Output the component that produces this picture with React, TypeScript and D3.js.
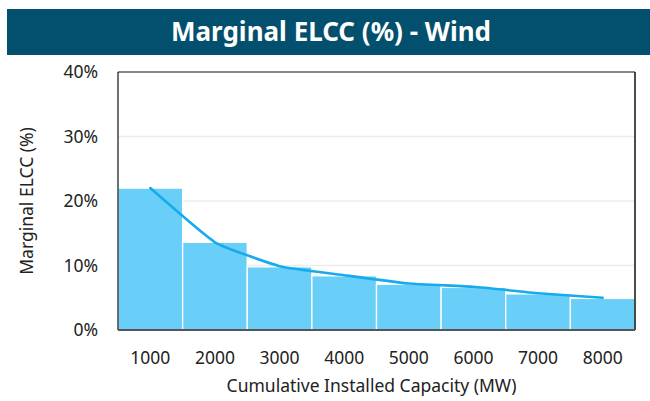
import React from 'react';
import * as d3 from 'd3';

// cumulative installed capacity steps (MW)
const capacities = ['1000', '2000', '3000', '4000', '5000', '6000', '7000', '8000'];
// marginal ELCC per tranche, %
const barValues = [22, 13.6, 9.8, 8.4, 7.1, 6.6, 5.6, 4.9];
// smoothed trend line, %
const lineValues = [22, 13.6, 9.9, 8.5, 7.2, 6.7, 5.7, 5.0];
const yTicks = [0, 10, 20, 30, 40];

const W = 650;
const H = 401;
const margin = { top: 72, right: 15, bottom: 71, left: 118 };
const FONT = '"Noto Sans", "Open Sans", sans-serif';

export default function App() {
  const innerW = W - margin.left - margin.right;
  const innerH = H - margin.top - margin.bottom;

  const x = d3.scaleBand<string>().domain(capacities).range([0, innerW]).padding(0);
  const y = d3.scaleLinear().domain([0, 40]).range([innerH, 0]);

  const line = d3
    .line<number>()
    .x((_, i) => (x(capacities[i]) || 0) + x.bandwidth() / 2)
    .y((d) => y(d))
    .curve(d3.curveCardinal.tension(0.6));

  return (
    <svg
      width={W}
      height={H}
      style={{ position: 'absolute', left: 0, top: 0, background: '#fff' }}
      fontFamily={FONT}
    >
      {/* title banner */}
      <rect x={7} y={9} width={W - 7} height={46} fill="#03506e" />
      <text x={331} y={41} textAnchor="middle" fill="#fff" fontSize={26} fontWeight="bold">
        Marginal ELCC (%) - Wind
      </text>

      <g transform={`translate(${margin.left},${margin.top})`}>
        {/* gridlines */}
        {yTicks.slice(1, -1).map((t) => (
          <line key={t} x1={0} x2={innerW} y1={y(t)} y2={y(t)} stroke="#ececec" strokeWidth={1.5} />
        ))}

        {/* bars */}
        {barValues.map((v, i) => (
          <rect
            key={capacities[i]}
            x={x(capacities[i]) || 0}
            y={y(v)}
            width={x.bandwidth()}
            height={innerH - y(v)}
            fill="#5ecbf8"
            fillOpacity={0.93}
            stroke="#fff"
            strokeWidth={1.3}
          />
        ))}

        {/* trend line */}
        <path d={line(lineValues) || ''} fill="none" stroke="#17abee" strokeWidth={2.6} strokeLinecap="round" />

        {/* frame */}
        <line x1={0} x2={innerW} y1={0} y2={0} stroke="#111" strokeWidth={1} />
        <line x1={innerW} x2={innerW} y1={0} y2={innerH} stroke="#111" strokeWidth={1.5} />
        <line x1={0} x2={0} y1={0} y2={innerH} stroke="#111" strokeWidth={1.2} />
        <line x1={0} x2={innerW} y1={innerH} y2={innerH} stroke="#555" strokeWidth={1.8} />

        {/* y tick labels */}
        {yTicks.map((t) => (
          <text key={t} x={-20} y={y(t)} dy="0.35em" textAnchor="end" fontSize={17.5} fill="#222">
            {t}%
          </text>
        ))}

        {/* x tick labels */}
        {capacities.map((c) => (
          <text
            key={c}
            x={(x(c) || 0) + x.bandwidth() / 2}
            y={innerH + 34}
            textAnchor="middle"
            fontSize={17.5}
            fill="#222"
          >
            {c}
          </text>
        ))}

        <text x={innerW / 2 - 5} y={innerH + 62} textAnchor="middle" fontSize={17.5} fill="#222">
          Cumulative Installed Capacity (MW)
        </text>
        <text
          transform={`translate(${-85},${innerH / 2}) rotate(-90)`}
          textAnchor="middle"
          fontSize={17.5}
          fill="#222"
        >
          Marginal ELCC (%)
        </text>
      </g>
    </svg>
  );
}
